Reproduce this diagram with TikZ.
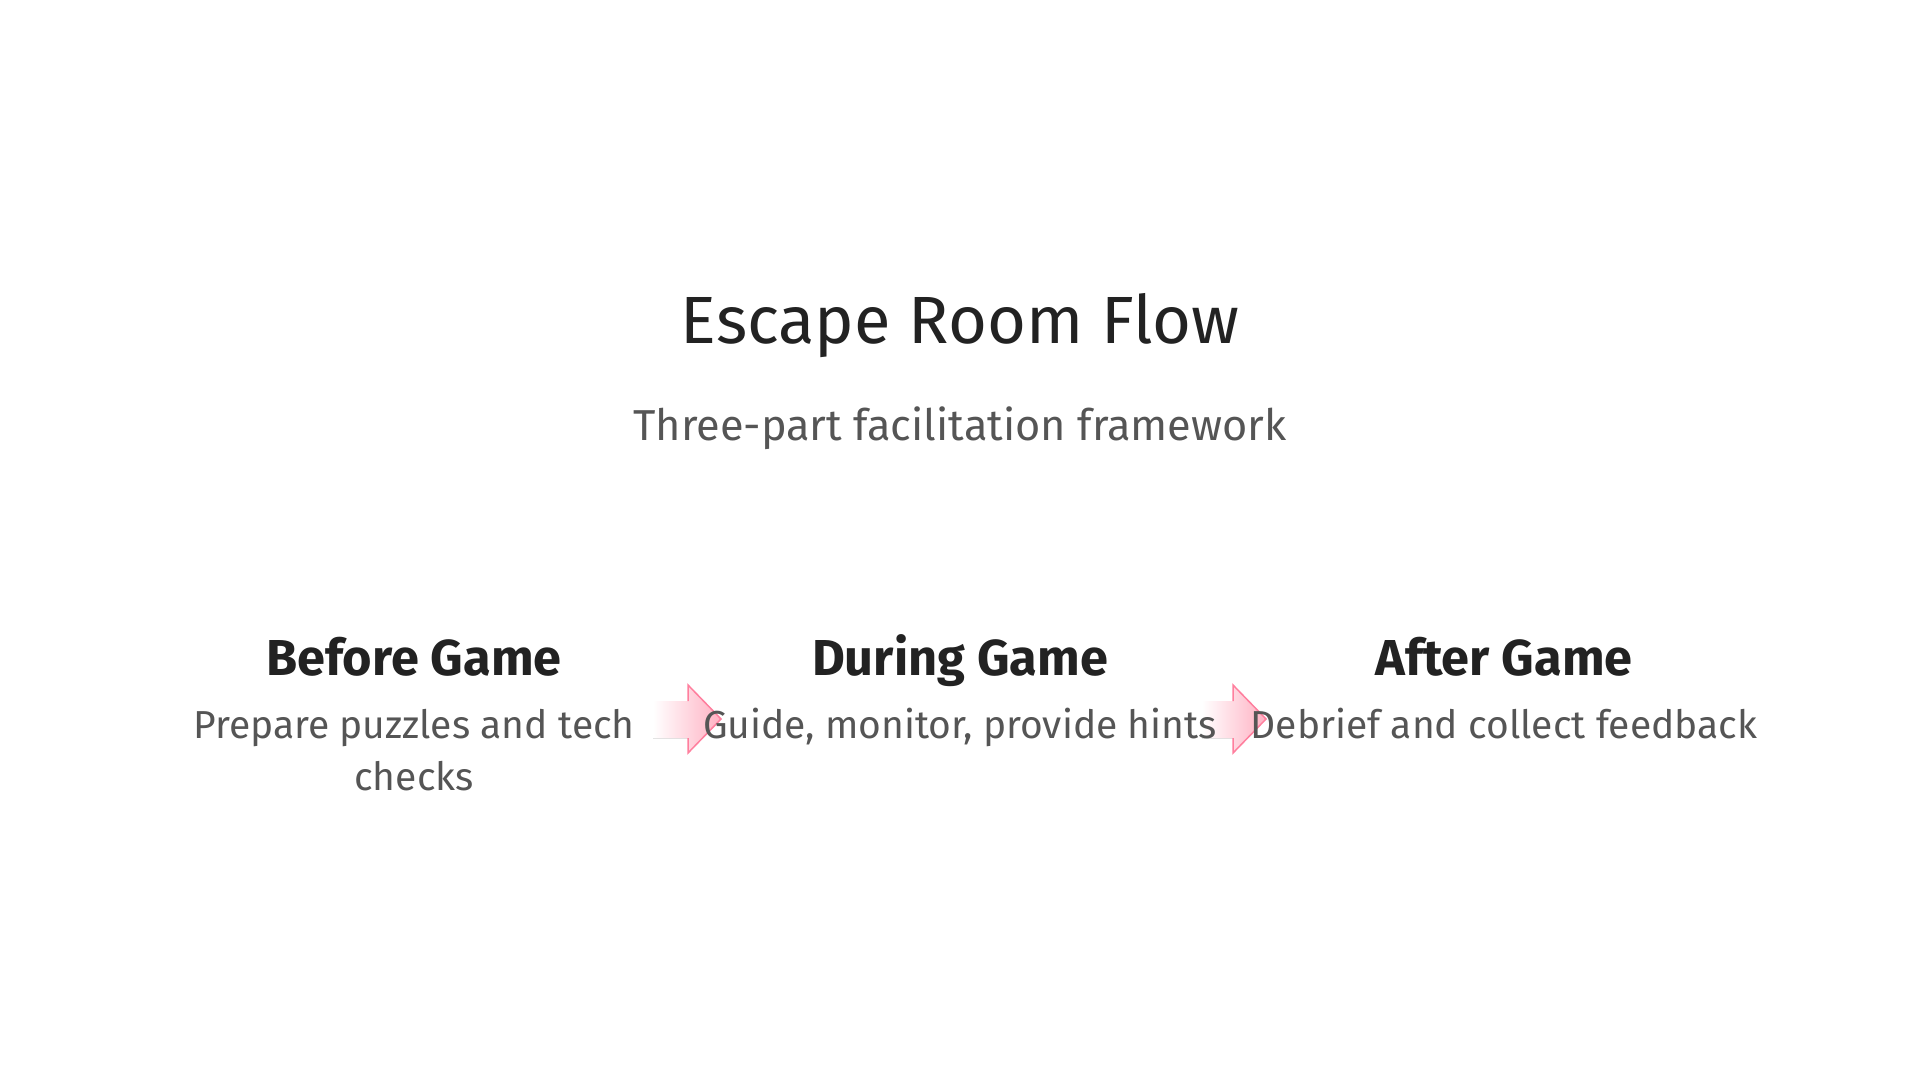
\documentclass[tikz,border=0pt]{standalone}
\usepackage{fontspec}
\setmainfont{Fira Sans}
\usetikzlibrary{shapes.arrows}
\definecolor{titlec}{HTML}{222222}
\definecolor{subc}{HTML}{555555}
\definecolor{pinkf}{HTML}{FFB0C2}
\definecolor{pinks}{HTML}{FF7F9E}
\tikzset{
  titletext/.style={anchor=base, text=titlec, font=\fontsize{66.8}{72}\selectfont, inner sep=0pt},
  subtext/.style={anchor=base, text=subc, font=\fontsize{43.3}{48}\selectfont, inner sep=0pt},
  headtext/.style={anchor=base, text=titlec, font=\fontsize{50.5}{56}\selectfont\bfseries, inner sep=0pt},
  desctext/.style={anchor=base, text=subc, font=\fontsize{39}{52}\selectfont, inner sep=0pt},
  arrowfill/.style={left color=white, right color=pinkf, draw=none},
  arrowline/.style={draw=pinks, line width=1.5pt, line join=miter},
}
\begin{document}
\begin{tikzpicture}[x=1pt,y=-1pt]
\useasboundingbox (0,0) rectangle (1920,1080);
\node[titletext] (title) at (960,343) {Escape Room Flow};
\node[subtext] (sub) at (960,440) {Three-part facilitation framework};

\node[headtext] (h1) at (414,675) {Before Game};
\node[headtext] (h2) at (960,675) {During Game};
\node[headtext] (h3) at (1504,675) {After Game};

% arrows
\foreach \tx/\hx/\px/\nm in {653/688/721/a1, 1202/1233/1266/a2}{
  \fill[arrowfill] (\tx,701) -- (\hx,701) -- (\hx,685) -- (\px,719) -- (\hx,753) -- (\hx,738) -- (\tx,738) -- cycle;
  \draw[arrowline] (\hx,701) -- (\hx,685) -- (\px,719) -- (\hx,753) -- (\hx,738);
  \coordinate (\nm) at (\px,719);
}

\node[desctext] (d1) at (414,738) {\setlength{\tabcolsep}{0pt}\begin{tabular}[t]{c}Prepare puzzles and tech\\checks\end{tabular}};
\node[desctext] (d2) at (960,738) {Guide, monitor, provide hints};
\node[desctext] (d3) at (1504,738) {Debrief and collect feedback};
\end{tikzpicture}
\end{document}
